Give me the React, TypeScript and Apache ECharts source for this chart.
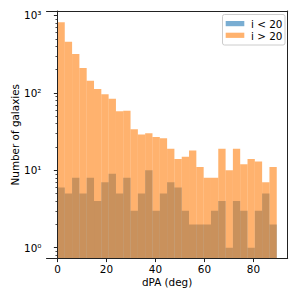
import React, { useEffect, useRef } from "react";
import * as echarts from "echarts";

const binEdges = [0, 2.98, 5.97, 8.95, 11.93, 14.92, 17.9, 20.88, 23.87, 26.85, 29.83, 32.82, 35.8, 38.78, 41.77, 44.75, 47.73, 50.72, 53.7, 56.68, 59.67, 62.65, 65.63, 68.62, 71.6, 74.58, 77.57, 80.55, 83.53, 86.52, 89.5];
const lowIncl = [6, 5, 8, 5, 8, 4, 7, 9, 5, 8, 3, 5, 10, 3, 5, 7, 6, 3, 2, 2, 2, 3, 4, 1, 4, 3, 1, 3, 5, 2];
const highIncl = [820, 459, 318, 210, 144, 112, 96, 84, 58, 59, 34, 29, 30, 27, 26, 19, 14, 15, 18, 11, 8, 8, 19, 10, 19, 12, 14, 13, 7, 11];
const xTicks = [0, 20, 40, 60, 80];
const yTicks = [1, 10, 100, 1000];
const yTickLabels = ["10⁰", "10¹", "10²", "10³"];
const yMinorTicks = [0.8, 0.9, 2, 3, 4, 5, 6, 7, 8, 9, 20, 30, 40, 50, 60, 70, 80, 90, 200, 300, 400, 500, 600, 700, 800, 900];
const seriesNames = ["i < 20", "i > 20"];

const X_MIN = -4.475;
const X_MAX = 93.97;
const Y_MIN = 0.725;
const Y_MAX = 1143;
const FONT = "DejaVu Sans";
const BLUE = "rgba(31,119,180,0.6)";
const ORANGE = "rgba(255,127,14,0.6)";
const SPINE = "#222";

function histData(vals: number[]) {
  return vals.map((v, i) => [binEdges[i], binEdges[i + 1], v]);
}

function makeRender(fill: string) {
  return (params: any, api: any) => {
    const x0 = api.value(0);
    const x1 = api.value(1);
    const v = api.value(2);
    const p0 = api.coord([x0, v]);
    const p1 = api.coord([x1, v]);
    const cs = params.coordSys;
    const bottom = cs.y + cs.height;
    return {
      type: "rect",
      shape: { x: p0[0], y: p0[1], width: p1[0] - p0[0], height: bottom - p0[1] },
      style: { fill },
    };
  };
}

export default function App() {
  const ref = useRef<HTMLDivElement>(null);
  useEffect(() => {
    if (!ref.current) return;
    const chart = echarts.init(ref.current, null, { renderer: "svg" });
    const lineStyle = { color: SPINE, width: 1 };
    chart.setOption({
      animation: false,
      backgroundColor: "#fff",
      textStyle: { fontFamily: FONT },
      grid: { left: 46.5, top: 11, right: 11.3, bottom: 40.5, containLabel: false, outerBoundsMode: "none" },
      xAxis: [
        {
          type: "value",
          min: X_MIN,
          max: X_MAX,
          position: "bottom",
          z: 10,
          axisLine: { show: true, lineStyle },
          axisTick: { show: true, length: 3.6, lineStyle, customValues: xTicks },
          axisLabel: { show: true, customValues: xTicks, color: "#000", fontSize: 10.4, fontFamily: FONT, margin: 5 },
          splitLine: { show: false },
          name: "dPA (deg)",
          nameLocation: "middle",
          nameGap: 18.5,
          nameMoveOverlap: false,
          nameTextStyle: { color: "#000", fontSize: 10.4, fontFamily: FONT },
        },
        {
          type: "value",
          min: X_MIN,
          max: X_MAX,
          position: "top",
          z: 10,
          axisLine: { show: true, lineStyle },
          axisTick: { show: false },
          axisLabel: { show: false },
          splitLine: { show: false },
        },
      ],
      yAxis: [
        {
          type: "log",
          logBase: 10,
          min: Y_MIN,
          max: Y_MAX,
          position: "left",
          z: 10,
          axisLine: { show: true, lineStyle },
          axisTick: { show: true, length: 3.6, lineStyle, customValues: yTicks },
          axisLabel: {
            show: true,
            customValues: yTicks,
            color: "#000",
            fontSize: 10.4,
            fontFamily: FONT,
            margin: 5,
            formatter: (v: number) => {
              const i = yTicks.findIndex((t) => Math.abs(t - v) / t < 1e-6);
              return i >= 0 ? yTickLabels[i] : "";
            },
          },
          splitLine: { show: false },
          minorTick: { show: false },
          name: "Number of galaxies",
          nameLocation: "middle",
          nameGap: 27,
          nameMoveOverlap: false,
          nameTextStyle: { color: "#000", fontSize: 10.4, fontFamily: FONT },
        },
        {
          type: "log",
          logBase: 10,
          min: Y_MIN,
          max: Y_MAX,
          position: "left",
          z: 10,
          axisLine: { show: false },
          axisTick: { show: true, length: 2, lineStyle: { color: SPINE, width: 0.8 }, customValues: yMinorTicks },
          axisLabel: { show: false },
          splitLine: { show: false },
        },
        {
          type: "log",
          logBase: 10,
          min: Y_MIN,
          max: Y_MAX,
          position: "right",
          z: 10,
          axisLine: { show: true, lineStyle },
          axisTick: { show: false },
          axisLabel: { show: false },
          splitLine: { show: false },
        },
      ],
      series: [
        {
          name: seriesNames[0],
          type: "custom",
          xAxisIndex: 0,
          yAxisIndex: 0,
          renderItem: makeRender(BLUE),
          encode: { x: [0, 1], y: 2 },
          data: histData(lowIncl),
          clip: true,
          z: 2,
        },
        {
          name: seriesNames[1],
          type: "custom",
          xAxisIndex: 0,
          yAxisIndex: 0,
          renderItem: makeRender(ORANGE),
          encode: { x: [0, 1], y: 2 },
          data: histData(highIncl),
          clip: true,
          z: 3,
        },
      ],
      graphic: [
        {
          type: "rect",
          z: 20,
          shape: { x: 222.5, y: 14.5, width: 62.5, height: 30.5, r: 2 },
          style: { fill: "rgba(255,255,255,0.8)", stroke: "#cccccc", lineWidth: 1 },
        },
        {
          type: "rect",
          z: 21,
          shape: { x: 225.7, y: 21, width: 18.6, height: 5.2 },
          style: { fill: BLUE },
        },
        {
          type: "rect",
          z: 21,
          shape: { x: 225.7, y: 32.7, width: 18.6, height: 5.2 },
          style: { fill: ORANGE },
        },
        {
          type: "text",
          z: 21,
          x: 251,
          y: 23.8,
          style: { text: seriesNames[0], fill: "#000", font: `10.4px "${FONT}"`, verticalAlign: "middle", align: "left" },
        },
        {
          type: "text",
          z: 21,
          x: 251,
          y: 35.5,
          style: { text: seriesNames[1], fill: "#000", font: `10.4px "${FONT}"`, verticalAlign: "middle", align: "left" },
        },
      ],
    });
    return () => chart.dispose();
  }, []);
  return <div ref={ref} style={{ position: "absolute", left: 0, top: 0, width: 299, height: 299 }} />;
}
